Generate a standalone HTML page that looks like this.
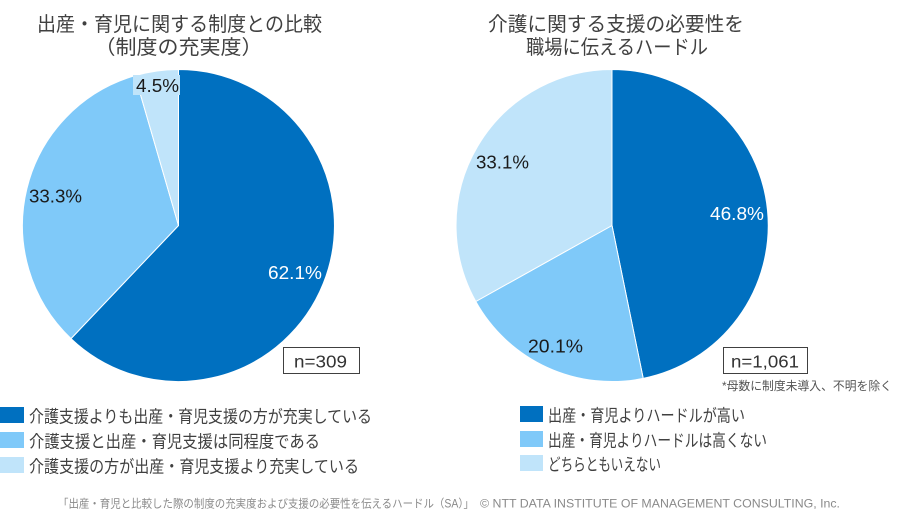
<!DOCTYPE html>
<html><head><meta charset="utf-8"><style>
html,body{margin:0;padding:0;background:#fff;}
svg{display:block;}
.jp{font-family:"Liberation Sans","Noto Sans CJK JP",sans-serif;}
.num{font-family:"Liberation Sans",sans-serif;}
</style></head><body>
<svg width="900" height="524" viewBox="0 0 900 524" xmlns="http://www.w3.org/2000/svg">
<rect width="900" height="524" fill="#fff"/>
<!-- titles -->
<g class="jp" fill="#404040" font-size="20">
<text x="37" y="31" textLength="285" lengthAdjust="spacingAndGlyphs">出産・育児に関する制度との比較</text>
<text x="178.5" y="54" text-anchor="middle" textLength="168" lengthAdjust="spacingAndGlyphs">（制度の充実度）</text>
<text x="488" y="31" textLength="256" lengthAdjust="spacingAndGlyphs">介護に関する支援の必要性を</text>
<text x="526" y="54" textLength="182" lengthAdjust="spacingAndGlyphs">職場に伝えるハードル</text>
</g>
<!-- left pie -->
<g stroke="#fff" stroke-width="1" stroke-linejoin="round">
<path d="M178.5,225.5 L178.5,69.5 A156,156 0 1,1 71.0,338.6 Z" fill="#0070C0"/>
<path d="M178.5,225.5 L71.0,338.6 A156,156 0 0,1 135.0,75.7 Z" fill="#7FC9F9"/>
<path d="M178.5,225.5 L135.0,75.7 A156,156 0 0,1 178.5,69.5 Z" fill="#C0E4FA"/>
</g>
<rect x="133" y="75" width="47" height="20" fill="#C0E4FA"/>
<!-- right pie -->
<g stroke="#fff" stroke-width="1" stroke-linejoin="round">
<path d="M612,225.5 L612,69.5 A156,156 0 0,1 643.2,378.4 Z" fill="#0070C0"/>
<path d="M612,225.5 L643.2,378.4 A156,156 0 0,1 475.8,301.5 Z" fill="#7FC9F9"/>
<path d="M612,225.5 L475.8,301.5 A156,156 0 0,1 612,69.5 Z" fill="#C0E4FA"/>
</g>
<!-- percent labels -->
<g class="num" font-size="18.5">
<text x="136" y="92" fill="#1a1a1a" textLength="43" lengthAdjust="spacingAndGlyphs">4.5%</text>
<text x="29" y="202.7" fill="#1a1a1a" textLength="53" lengthAdjust="spacingAndGlyphs">33.3%</text>
<text x="268" y="279" fill="#fff" textLength="54" lengthAdjust="spacingAndGlyphs">62.1%</text>
<text x="476" y="168.5" fill="#1a1a1a" textLength="53" lengthAdjust="spacingAndGlyphs">33.1%</text>
<text x="710" y="220" fill="#fff" textLength="54" lengthAdjust="spacingAndGlyphs">46.8%</text>
<text x="528" y="352.3" fill="#1a1a1a" textLength="55" lengthAdjust="spacingAndGlyphs">20.1%</text>
</g>
<!-- n boxes -->
<rect x="283.5" y="347.5" width="76" height="26" fill="#fff" stroke="#404040" stroke-width="1"/>
<text class="num" x="294" y="367.7" font-size="17.5" fill="#333" textLength="53" lengthAdjust="spacingAndGlyphs">n=309</text>
<rect x="723.5" y="347.5" width="84" height="26" fill="#fff" stroke="#404040" stroke-width="1"/>
<text class="num" x="731" y="367.7" font-size="17.5" fill="#333" textLength="68" lengthAdjust="spacingAndGlyphs">n=1,061</text>
<text class="jp" x="722" y="390" font-size="12" fill="#555" textLength="170" lengthAdjust="spacingAndGlyphs">*母数に制度未導入、不明を除く</text>
<!-- left legend -->
<rect x="0" y="407" width="24" height="16" fill="#0070C0"/>
<rect x="0" y="432" width="24" height="16" fill="#7FC9F9"/>
<rect x="0" y="457" width="24" height="16" fill="#C0E4FA"/>
<g class="jp" font-size="17" fill="#404040">
<text x="29" y="422.5" textLength="343" lengthAdjust="spacingAndGlyphs">介護支援よりも出産・育児支援の方が充実している</text>
<text x="29" y="447.5" textLength="291" lengthAdjust="spacingAndGlyphs">介護支援と出産・育児支援は同程度である</text>
<text x="29" y="472.5" textLength="330" lengthAdjust="spacingAndGlyphs">介護支援の方が出産・育児支援より充実している</text>
</g>
<!-- right legend -->
<rect x="520" y="406" width="23" height="16" fill="#0070C0"/>
<rect x="520" y="431" width="23" height="16" fill="#7FC9F9"/>
<rect x="520" y="455" width="23" height="16" fill="#C0E4FA"/>
<g class="jp" font-size="17" fill="#404040">
<text x="548" y="421.5" textLength="197" lengthAdjust="spacingAndGlyphs">出産・育児よりハードルが高い</text>
<text x="548" y="446.5" textLength="219" lengthAdjust="spacingAndGlyphs">出産・育児よりハードルは高くない</text>
<text x="548" y="470.5" textLength="113" lengthAdjust="spacingAndGlyphs">どちらともいえない</text>
</g>
<!-- footer -->
<text class="jp" x="58" y="507.5" font-size="11.5" fill="#8a8a8a" textLength="416" lengthAdjust="spacingAndGlyphs">「出産・育児と比較した際の制度の充実度および支援の必要性を伝えるハードル（SA）」</text>
<text class="num" x="480" y="507.5" font-size="12" fill="#8a8a8a" textLength="360" lengthAdjust="spacingAndGlyphs">© NTT DATA INSTITUTE OF MANAGEMENT CONSULTING, Inc.</text>
</svg>
</body></html>
